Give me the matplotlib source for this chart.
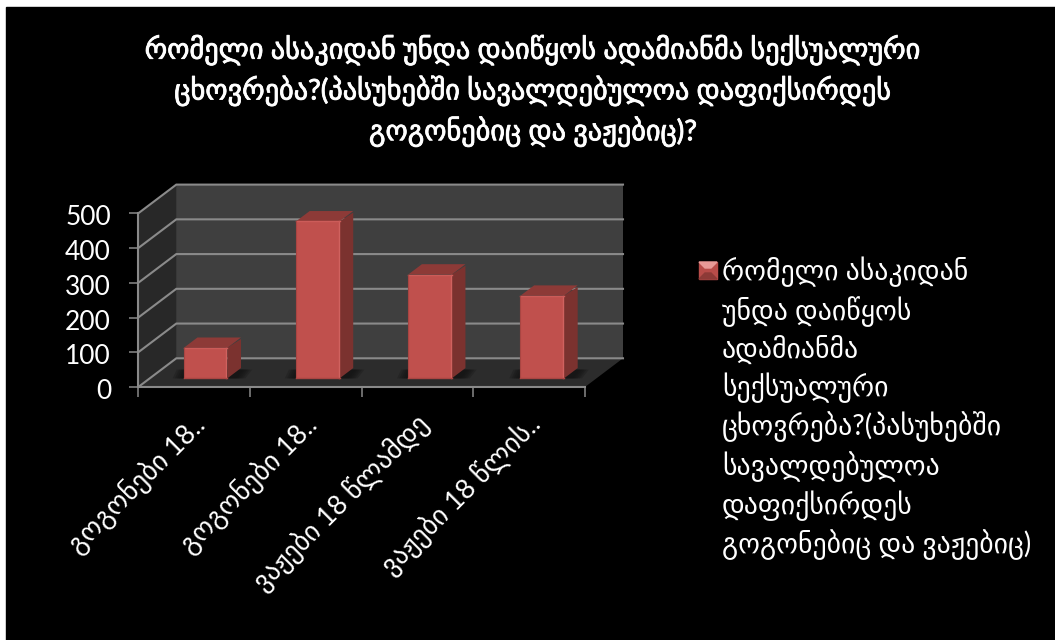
import matplotlib
matplotlib.use("Agg")
import matplotlib.pyplot as plt
import matplotlib.patheffects as pe
from matplotlib.patches import Polygon, Rectangle
from matplotlib.transforms import ScaledTranslation

plt.rcParams['font.family'] = ['Lato', 'DejaVu Sans']

W, H = 1055, 640

title = "რომელი ასაკიდან უნდა დაიწყოს ადამიანმა სექსუალური\nცხოვრება?(პასუხებში სავალდებულოა დაფიქსირდეს\nგოგონებიც და ვაჟებიც)?"
categories = ["გოგონები 18..", "გოგონები 18..", "ვაჟები 18 წლამდე", "ვაჟები 18 წლის.."]
values = [88, 452, 299, 238]
y_ticks = [0, 100, 200, 300, 400, 500]
legend_lines = ["რომელი ასაკიდან", "უნდა დაიწყოს", "ადამიანმა", "სექსუალური",
                "ცხოვრება?(პასუხებში", "სავალდებულოა", "დაფიქსირდეს", "გოგონებიც და ვაჟებიც)"]

# pixel box of the front plane of the fake 3d chart
left, right, top, bottom = 138.3, 585.0, 213.3, 387.0
depth_px = (38.0, 28.7)

fig = plt.figure(figsize=(W / 100, H / 100), dpi=100, facecolor='white')
fig.add_artist(Rectangle((6 / W, 0), 1, 1 - 7 / H, transform=fig.transFigure, color='black', zorder=-5))

ax = fig.add_axes([left / W, 1 - bottom / H, (right - left) / W, (bottom - top) / H])
ax.set_xlim(0, len(categories))
ax.set_ylim(0, y_ticks[-1])
ax.patch.set_visible(False)

# depth of the box in data units
dx = depth_px[0] / ((right - left) / len(categories))
dy = depth_px[1] / ((bottom - top) / y_ticks[-1])
n = len(categories)


def poly(points, color, z, alpha=1.0):
    ax.add_patch(Polygon(points, closed=True, facecolor=color, edgecolor='none',
                         alpha=alpha, zorder=z, clip_on=False))


# walls and floor
poly([(dx, dy), (n + dx, dy), (n + dx, 500 + dy), (dx, 500 + dy)], '#3f3f3f', 1)
poly([(0, 0), (dx, dy), (dx, 500 + dy), (0, 500)], '#282828', 1)
poly([(0, 0), (n, 0), (n + dx, dy), (dx, dy)], '#2c2c2c', 1)

# gridlines
for t in y_ticks:
    ax.plot([0, dx, n + dx], [t, t + dy, t + dy], color='#8a8a8a', lw=1.5, zorder=2,
            clip_on=False, solid_joinstyle='miter')

# bars
bar_w = 0.39
d0, d1 = 0.30, 0.66
for i, v in enumerate(values):
    x0 = i + 0.5 - bar_w / 2 + 0.005 * i
    x1 = x0 + bar_w
    fx0, fy0 = x0 + dx * d0, dy * d0
    fx1 = x1 + dx * d0
    ty = v + fy0
    bx = dx * (d1 - d0)
    by = dy * (d1 - d0)
    # soft shadow on the floor
    for k in range(5):
        g = 0.02 * (5 - k)
        poly([(fx0 - g, fy0), (fx1 + bx * 0.5 + g, fy0), (fx1 + bx + g, fy0 + by * 0.85),
              (fx0 + bx * 0.3 - g, fy0 + by * 0.85)], '#111111', 3, alpha=0.25)
    poly([(fx1, fy0), (fx1 + bx, fy0 + by), (fx1 + bx, ty + by * 0.85), (fx1, ty)], '#7b322f', 4)
    poly([(fx0, ty), (fx1, ty), (fx1 + bx, ty + by), (fx0 + bx, ty + by)], '#8d3a37', 4)
    poly([(fx0, fy0), (fx1, fy0), (fx1, ty), (fx0, ty)], '#c0504d', 5)
    # rounded edge highlights
    ax.plot([fx1 - 0.008, fx1 - 0.008], [fy0, ty], color='#d0625f', lw=1.0, zorder=6)
    ax.plot([fx0, fx1], [ty, ty], color='#cc5c59', lw=1.0, zorder=6)
    ax.plot([fx0, fx1], [fy0, fy0], color='#a94542', lw=1.0, zorder=6)
    ax.plot([fx0, fx0], [fy0, ty], color='#a94542', lw=0.8, zorder=6)

# axes
for s in ['top', 'right']:
    ax.spines[s].set_visible(False)
for s in ['left', 'bottom']:
    ax.spines[s].set_color('#8a8a8a')
    ax.spines[s].set_linewidth(1.5)
    ax.spines[s].set_zorder(7)

ax.set_yticks(y_ticks)
ax.tick_params(axis='y', colors='#8a8a8a', labelcolor='white', length=6.6, width=1.1,
               labelsize=19, pad=13)
yshift = ScaledTranslation(0, -2 / 100, fig.dpi_scale_trans)
for lab in ax.get_yticklabels():
    lab.set_transform(lab.get_transform() + yshift)
ax.set_xticks(range(n + 1))
ax.tick_params(axis='x', which='major', colors='#8a8a8a', length=7, width=1.1, labelbottom=False)
ax.set_xticks([i + 0.5 for i in range(n)], categories, minor=True)
ax.tick_params(axis='x', which='minor', length=0, labelcolor='white', labelsize=19.5, pad=18)
shift = ScaledTranslation(-3 / 100, 2 / 100, fig.dpi_scale_trans)
for lab in ax.get_xticklabels(minor=True):
    lab.set_rotation(45)
    lab.set_ha('right')
    lab.set_va('top')
    lab.set_rotation_mode('anchor')
    lab.set_transform(lab.get_transform() + shift)

# title, regular face thickened with a thin stroke like the fake bold of the reference
t = fig.text(533 / W, 1 - 91 / H, title, color='white', fontsize=20.4, ha='center', va='center', linespacing=1.42)
t.set_path_effects([pe.withStroke(linewidth=0.6, foreground='white')])

# legend marker, beveled square
mx0, mx1, my0, my1 = 699 / W, 717 / W, 1 - 279 / H, 1 - 262 / H
ix, iy = 6 / W, 6 / H
fig.add_artist(Rectangle((mx0, my0), mx1 - mx0, my1 - my0, transform=fig.transFigure, color='#b84c49'))
fig.add_artist(Polygon([(mx0, my1), (mx1, my1), (mx1 - ix, my1 - iy), (mx0 + ix, my1 - iy)],
                       transform=fig.transFigure, color='#e89a97'))
fig.add_artist(Polygon([(mx0, my0), (mx1, my0), (mx1 - ix, my0 + iy), (mx0 + ix, my0 + iy)],
                       transform=fig.transFigure, color='#8d3a37'))

# legend text
fig.text(722 / W, 1 - 408.5 / H, "\n".join(legend_lines), color='white', fontsize=20,
         ha='left', va='center', linespacing=1.36)

fig.savefig("out.png", dpi=100, facecolor=fig.get_facecolor())
